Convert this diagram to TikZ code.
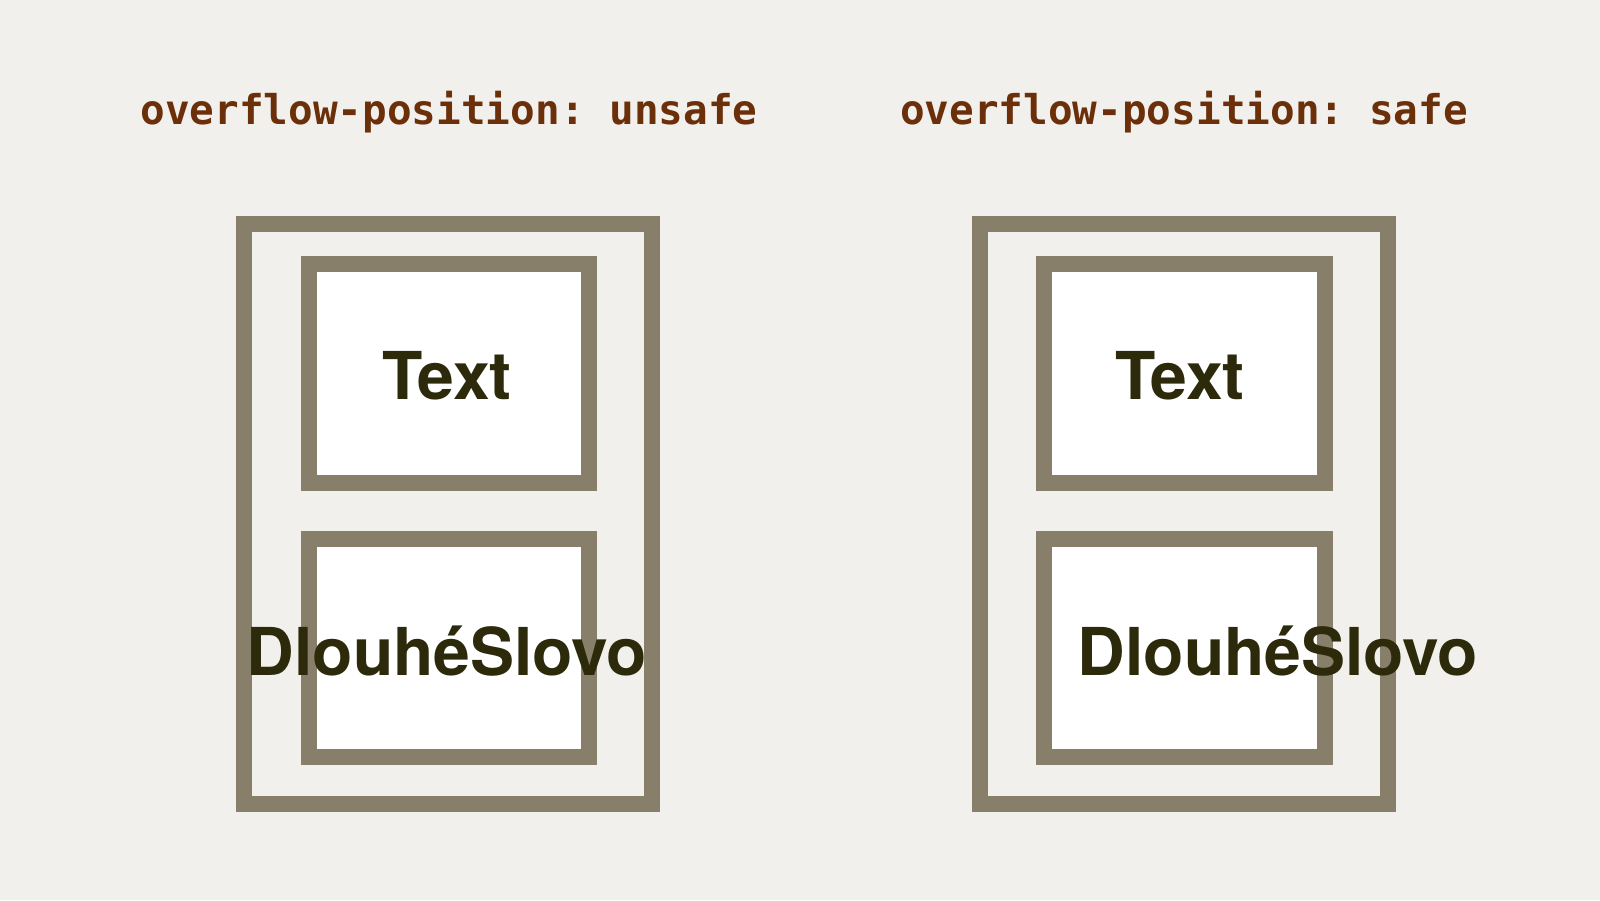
\documentclass[tikz,border=0pt]{standalone}
\usepackage{fontspec}
\setsansfont{TeX Gyre Heros}
\setmonofont{DejaVu Sans Mono}
\usepackage{xcolor}
\usetikzlibrary{positioning}

\definecolor{pagebg}{HTML}{F2F0EC}
\definecolor{boxline}{HTML}{877F69}
\definecolor{wordcol}{HTML}{2C2A0A}
\definecolor{titlecol}{HTML}{6B2F0A}

\tikzset{
  outerbox/.style={draw=boxline, fill=pagebg, line width=16pt},
  itembox/.style={draw=boxline, fill=white, line width=16pt},
  word/.style={inner sep=0pt, anchor=base, text=wordcol, font=\fontsize{66}{66}\selectfont\sffamily\bfseries},
  title/.style={inner sep=0pt, anchor=base, text=titlecol, font=\fontsize{41}{41}\selectfont\ttfamily\bfseries}
}

\begin{document}
\begin{tikzpicture}[x=1pt,y=-1pt]
\useasboundingbox (0,0) rectangle (1600,900);
\fill[pagebg] (0,0) rectangle (1600,900);

% titles
\node[title] (tunsafe) at (449,124.5) {overflow-position: unsafe};
\node[title] (tsafe) at (1184,124.5) {overflow-position: safe};

% unsafe column
\filldraw[outerbox] (243.5,223.5) rectangle (651.5,804);
\filldraw[itembox] (309,264) rectangle (589,483);
\filldraw[itembox] (309,539) rectangle (589,757);
\node[word] (utext) at (447,399) {Text};
\node[word] (uword) at (447,675.5) {DlouhéSlovo};

% safe column
\filldraw[outerbox] (980,223.5) rectangle (1388,804);
\filldraw[itembox] (1044,264) rectangle (1324.5,483);
\filldraw[itembox] (1044,539) rectangle (1324.5,757);
\node[word] (stext) at (1180,399) {Text};
\node[word, anchor=base west] (sword) at (1077.5,675.5) {DlouhéSlovo};
\end{tikzpicture}
\end{document}
